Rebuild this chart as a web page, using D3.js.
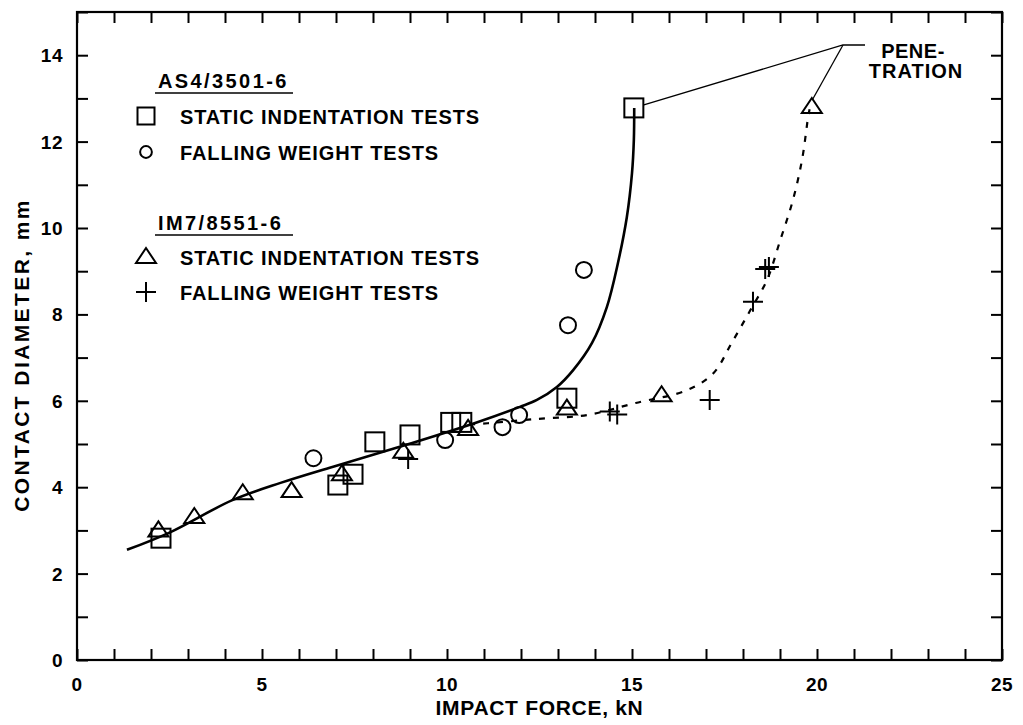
<!DOCTYPE html>
<html>
<head>
<meta charset="utf-8">
<script src="https://cdn.jsdelivr.net/npm/d3@7"></script>
<style>
  html, body { margin: 0; padding: 0; background: #fff; }
  svg { display: block; }
  text { font-family: "Liberation Sans", Arial, sans-serif; font-weight: bold; fill: #000; }
</style>
</head>
<body>
<svg id="chart" width="1023" height="725"></svg>
<script>
// ---- data ----
const xTickValues = [0, 5, 10, 15, 20, 25];
const yTickValues = [0, 2, 4, 6, 8, 10, 12, 14];

// AS4/3501-6 static indentation tests (squares) [force kN, diameter mm]
const as4Static = [[2.27,2.82],[7.05,4.05],[7.46,4.3],[8.05,5.05],[9.0,5.21],[10.1,5.5],[10.4,5.5],[13.24,6.06],[15.05,12.78]];
// AS4/3501-6 falling weight tests (circles)
const as4Falling = [[6.39,4.67],[9.95,5.09],[11.5,5.39],[11.95,5.67],[13.27,7.75],[13.7,9.03]];
// IM7/8551-6 static indentation tests (triangles)
const im7Static = [[2.2,3.0],[3.17,3.31],[4.48,3.86],[5.8,3.91],[7.16,4.3],[8.82,4.82],[10.57,5.35],[13.24,5.82],[15.8,6.13],[19.86,12.8]];
// IM7/8551-6 falling weight tests (plus)
const im7Falling = [[8.95,4.65],[14.4,5.75],[14.6,5.68],[17.1,6.02],[18.27,8.29],[18.6,9.05],[18.7,9.1]];

// fitted curves
const as4Curve = [[1.35,2.55],[2.5,2.95],[4.2,3.7],[5.5,4.1],[6.9,4.47],[8.7,4.93],[10.8,5.5],[11.97,5.86],[12.43,6.02],[12.97,6.32],[13.41,6.71],[13.92,7.34],[14.32,8.17],[14.62,9.19],[14.86,10.25],[15.0,11.27],[15.05,12.04],[15.06,12.78]];
const im7Curve = [[10.6,5.45],[11.1,5.48],[12.43,5.58],[13.78,5.67],[15.1,5.95],[16.5,6.25],[17.2,6.64],[17.7,7.35],[18.2,8.1],[18.65,8.8],[19.0,9.7],[19.35,10.65],[19.6,11.6],[19.76,12.57],[19.8,12.75]];

const legendGroups = [
  { title: "AS4/3501-6", items: [["square","STATIC INDENTATION TESTS"],["circle","FALLING WEIGHT TESTS"]] },
  { title: "IM7/8551-6", items: [["triangle","STATIC INDENTATION TESTS"],["plus","FALLING WEIGHT TESTS"]] }
];
const annotationLines = ["PENE-", "TRATION"];
const xTitle = "IMPACT FORCE, kN";
const yTitle = "CONTACT DIAMETER, mm";

// ---- layout ----
const svg = d3.select("#chart");
const L = 77, R = 1002, T = 12, B = 660;
const x = d3.scaleLinear().domain([0, 25]).range([L, R]);
const y = d3.scaleLinear().domain([0, 15]).range([B, T]);
const tickLen = 11;

// frame
svg.append("rect").attr("x", L).attr("y", T).attr("width", R - L).attr("height", B - T)
  .attr("fill", "none").attr("stroke", "#000").attr("stroke-width", 2.2);

// axes with inward ticks
const bottomAxis = d3.axisBottom(x).tickValues(d3.range(0, 26, 1)).tickSizeInner(-tickLen).tickSizeOuter(0).tickFormat("");
const topAxis = d3.axisTop(x).tickValues(d3.range(0, 26, 1)).tickSizeInner(-tickLen).tickSizeOuter(0).tickFormat("");
const leftAxis = d3.axisLeft(y).tickValues(d3.range(0, 16, 1)).tickSizeInner(-tickLen).tickSizeOuter(0).tickFormat("");
const rightAxis = d3.axisRight(y).tickValues(d3.range(0, 16, 1)).tickSizeInner(-tickLen).tickSizeOuter(0).tickFormat("");
function styleAxis(g){ g.select(".domain").remove(); g.selectAll("line").attr("stroke","#000").attr("stroke-width",2); }
svg.append("g").attr("transform", `translate(0,${B})`).call(bottomAxis).call(styleAxis);
svg.append("g").attr("transform", `translate(0,${T})`).call(topAxis).call(styleAxis);
svg.append("g").attr("transform", `translate(${L},0)`).call(leftAxis).call(styleAxis);
svg.append("g").attr("transform", `translate(${R},0)`).call(rightAxis).call(styleAxis);

// tick labels
svg.append("g").selectAll("text").data(xTickValues).join("text")
  .attr("x", d => x(d)).attr("y", B + 31).attr("text-anchor", "middle")
  .attr("font-size", 19).attr("letter-spacing", 0.5).text(d => d);
svg.append("g").selectAll("text").data(yTickValues).join("text")
  .attr("x", L - 14).attr("y", d => y(d) + 7).attr("text-anchor", "end")
  .attr("font-size", 19).attr("letter-spacing", 0.5).text(d => d);

// axis titles
svg.append("text").attr("x", (L + R) / 2).attr("y", 715).attr("text-anchor", "middle")
  .attr("font-size", 21).attr("letter-spacing", 0.7).text(xTitle);
svg.append("text").attr("transform", "translate(29,355) rotate(-90)").attr("text-anchor", "middle")
  .attr("font-size", 21).attr("letter-spacing", 2.4).text(yTitle);

// curves
const line = d3.line().x(d => x(d[0])).y(d => y(d[1])).curve(d3.curveCatmullRom.alpha(0.5));
svg.append("path").attr("d", line(as4Curve)).attr("fill", "none").attr("stroke", "#000").attr("stroke-width", 2.6);
svg.append("path").attr("d", line(im7Curve)).attr("fill", "none").attr("stroke", "#000").attr("stroke-width", 2.2)
  .attr("stroke-dasharray", "6,8");

// markers
function drawMarker(g, type, cx, cy, s) {
  if (type === "square") {
    g.append("rect").attr("x", cx - s/2).attr("y", cy - s/2).attr("width", s).attr("height", s)
      .attr("fill", "none").attr("stroke", "#000").attr("stroke-width", 2);
  } else if (type === "circle") {
    g.append("circle").attr("cx", cx).attr("cy", cy).attr("r", s * 0.42)
      .attr("fill", "none").attr("stroke", "#000").attr("stroke-width", 2);
  } else if (type === "triangle") {
    const h = s * 0.75, w = s;
    g.append("path").attr("d", `M${cx},${cy - h*0.6}L${cx + w/2},${cy + h*0.4}L${cx - w/2},${cy + h*0.4}Z`)
      .attr("fill", "none").attr("stroke", "#000").attr("stroke-width", 2);
  } else if (type === "plus") {
    g.append("path").attr("d", `M${cx - s/2},${cy}H${cx + s/2}M${cx},${cy - s/2}V${cy + s/2}`)
      .attr("fill", "none").attr("stroke", "#000").attr("stroke-width", 2);
  }
}
const mk = svg.append("g");
as4Static.forEach(d => drawMarker(mk, "square", x(d[0]), y(d[1]), 19));
as4Falling.forEach(d => drawMarker(mk, "circle", x(d[0]), y(d[1]), 19));
im7Static.forEach(d => drawMarker(mk, "triangle", x(d[0]), y(d[1]), 20));
im7Falling.forEach(d => drawMarker(mk, "plus", x(d[0]), y(d[1]), 20));

// penetration annotation
const sq = as4Static[as4Static.length - 1], tr = im7Static[im7Static.length - 1];
const ann = svg.append("g").attr("stroke", "#000").attr("stroke-width", 1.3).attr("fill", "none");
const jx = 843, jy = 45;
ann.append("path").attr("d", `M${x(sq[0]) + 10},${y(sq[1]) - 3}L${jx},${jy}H${jx + 22}`);
ann.append("path").attr("d", `M${x(tr[0]) + 1},${y(tr[1]) - 8}L${jx},${jy}`);
svg.append("text").attr("x", 913).attr("y", 58).attr("text-anchor", "middle").attr("font-size", 20)
  .attr("letter-spacing", 0.5).text(annotationLines[0]);
svg.append("text").attr("x", 916).attr("y", 78).attr("text-anchor", "middle").attr("font-size", 20)
  .attr("letter-spacing", 1).text(annotationLines[1]);

// legend
const legendRows = [
  { titleY: 88, rows: [116, 152] },
  { titleY: 230, rows: [257, 292] }
];
legendGroups.forEach((grp, gi) => {
  const lay = legendRows[gi];
  svg.append("text").attr("x", 158).attr("y", lay.titleY).attr("font-size", 20)
    .attr("letter-spacing", 2.4).text(grp.title);
  svg.append("line").attr("x1", 155).attr("x2", 293).attr("y1", lay.titleY + 5).attr("y2", lay.titleY + 5)
    .attr("stroke", "#000").attr("stroke-width", 1.5);
  grp.items.forEach((it, i) => {
    const cy = lay.rows[i];
    const size = it[0] === "circle" ? 14 : (it[0] === "square" ? 17 : 20);
    drawMarker(svg, it[0], 146, cy, size);
    svg.append("text").attr("x", 180).attr("y", cy + 8).attr("font-size", 20)
      .attr("letter-spacing", 0.9).text(it[1]);
  });
});
</script>
</body>
</html>
